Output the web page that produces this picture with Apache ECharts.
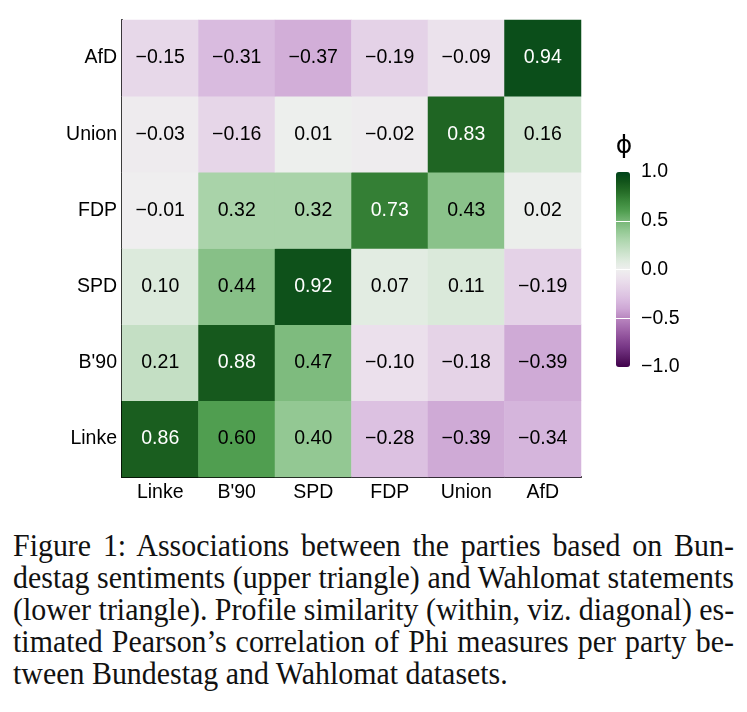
<!DOCTYPE html>
<html>
<head>
<meta charset="utf-8">
<script src="https://cdn.jsdelivr.net/npm/echarts@6/dist/echarts.min.js"></script>
<style>
  body { margin: 0; background: #fff; }
  #chart { position: absolute; left: 0; top: 0; width: 747px; height: 520px; }
  #caption {
    position: absolute; left: 13px; top: 529px;
    width: 771px;
    transform: scaleX(0.935); transform-origin: left top;
    font-family: "Liberation Serif", serif; font-size: 32px; line-height: 32px; color: #111;
  }
  #caption .ln { text-align: justify; text-align-last: justify; white-space: nowrap; }
  #caption .last { text-align: left; white-space: nowrap; }
</style>
</head>
<body>
<div id="chart"></div>
<div id="caption">
  <div class="ln">Figure 1: Associations between the parties based on Bun-</div>
  <div class="ln">destag sentiments (upper triangle) and Wahlomat statements</div>
  <div class="ln">(lower triangle). Profile similarity (within, viz. diagonal) es-</div>
  <div class="ln">timated Pearson’s correlation of Phi measures per party be-</div>
  <div class="last">tween Bundestag and Wahlomat datasets.</div>
</div>
<script>
// parties, bottom-to-top on y, left-to-right on x
var parties = ['Linke', "B'90", 'SPD', 'FDP', 'Union', 'AfD'];

// one array per row (y category), values left to right
var rowLinke = [0.86, 0.60, 0.40, -0.28, -0.39, -0.34];
var rowB90   = [0.21, 0.88, 0.47, -0.10, -0.18, -0.39];
var rowSPD   = [0.10, 0.44, 0.92, 0.07, 0.11, -0.19];
var rowFDP   = [-0.01, 0.32, 0.32, 0.73, 0.43, 0.02];
var rowUnion = [-0.03, -0.16, 0.01, -0.02, 0.83, 0.16];
var rowAfD   = [-0.15, -0.31, -0.37, -0.19, -0.09, 0.94];

var rows = [rowLinke, rowB90, rowSPD, rowFDP, rowUnion, rowAfD];

// purple-white-green, evenly spaced from -1 to 1 in steps of 0.1
var palette = [
    '#40004b', '#5b1d67', '#763685', '#8e4f99', '#a46aad', '#b986c0',
    '#cea8d5', '#dabde0', '#e3d0e6', '#ebe0ec', '#efefef',
    '#dceadc', '#c6e0c6', '#aed6ae', '#93c893', '#75b575',
    '#509e50', '#3a873b', '#256c27', '#12541a', '#00441b'
];

function fmt(v, d) {
    return v.toFixed(d).replace('-', '\u2212');
}

var cells = [];
rows.forEach(function (r, i) {
    r.forEach(function (v, j) {
        cells.push({
            value: [j, i, v],
            label: { color: v > 0.65 ? '#ffffff' : '#000000' }
        });
    });
});

var chart = echarts.init(document.getElementById('chart'));
var font = '"Liberation Sans", Arial, sans-serif';

var option = {
    animation: false,
    grid: [
        { left: 122, top: 20, width: 459, height: 457 },
        { left: 616, top: 172, width: 14, height: 195, show: false }
    ],
    xAxis: [
        {
            type: 'category', data: parties, gridIndex: 0,
            axisLine: { lineStyle: { color: '#000', width: 2 } },
            axisTick: { show: false },
            axisLabel: { color: '#000', fontSize: 19.5, fontFamily: font, margin: 6 },
            splitLine: { show: false }
        },
        { type: 'value', gridIndex: 1, min: 0, max: 1, show: false }
    ],
    yAxis: [
        {
            type: 'category', data: parties, gridIndex: 0,
            axisLine: { lineStyle: { color: '#000', width: 2 } },
            axisTick: { show: false },
            axisLabel: { color: '#000', fontSize: 19.5, fontFamily: font, margin: 5 },
            splitLine: { show: false }
        },
        {
            type: 'value', gridIndex: 1, position: 'right',
            min: -1, max: 1, interval: 0.5, z: 10,
            name: '\u03d5', nameLocation: 'end', nameGap: 13,
            nameTextStyle: { color: '#000', fontSize: 25, fontFamily: '"DejaVu Sans", sans-serif', align: 'center', padding: [0, 0, 0, 16] },
            axisLine: { show: false },
            axisTick: { show: false },
            axisLabel: {
                color: '#000', fontSize: 19.5, fontFamily: font, margin: 11,
                formatter: function (v) { return fmt(v, 1); }
            },
            splitLine: { show: true, showMinLine: false, showMaxLine: false, lineStyle: { color: '#fff', width: 1 } }
        }
    ],
    visualMap: {
        type: 'continuous',
        seriesIndex: 0,
        min: -1, max: 1,
        orient: 'vertical',
        left: 616, top: 172,
        itemWidth: 14, itemHeight: 195,
        padding: 0,
        calculable: false,
        text: null,
        showLabel: false,
        inRange: { color: palette }
    },
    series: [
        {
            type: 'heatmap',
            xAxisIndex: 0, yAxisIndex: 0,
            data: cells,
            label: {
                show: true, fontSize: 19.5, fontFamily: font,
                formatter: function (p) { return fmt(p.value[2], 2); }
            },
            itemStyle: { borderWidth: 0 },
            emphasis: { disabled: true }
        }
    ]
};

chart.setOption(option);
</script>
</body>
</html>
